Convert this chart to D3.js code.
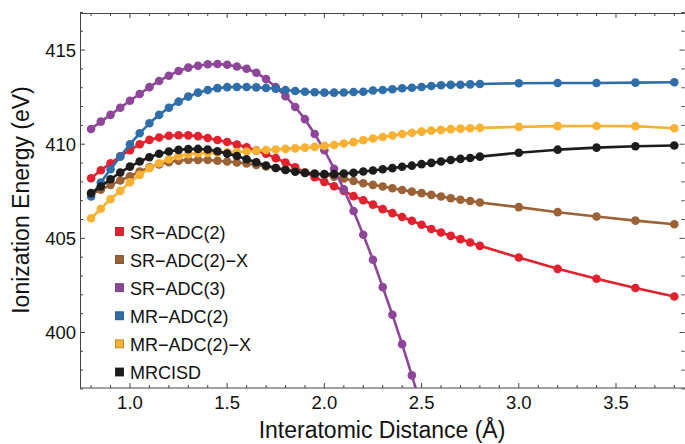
<!DOCTYPE html>
<html>
<head>
<meta charset="utf-8">
<script src="https://cdnjs.cloudflare.com/ajax/libs/d3/7.8.5/d3.min.js"></script>
<style>
    body { margin: 0; background: #fff; }
    text { font-family: "Liberation Sans", Arial, sans-serif; fill: #111; }
</style>
</head>
<body>
<div id="chart"></div>
<script>
// interatomic distances (Angstrom)
const distances = [0.80, 0.85, 0.90, 0.95, 1.00, 1.05, 1.10, 1.15, 1.20, 1.25, 1.30, 1.35, 1.40, 1.45, 1.50,
    1.55, 1.60, 1.65, 1.70, 1.75, 1.80, 1.85, 1.90, 1.95, 2.00, 2.05, 2.10, 2.15, 2.20, 2.25, 2.30, 2.35,
    2.40, 2.45, 2.50, 2.55, 2.60, 2.65, 2.70, 2.75, 2.80, 3.0, 3.2, 3.4, 3.6, 3.8];

const srAdc2 = [408.19, 408.62, 408.99, 409.36, 409.68, 410.00, 410.23, 410.36, 410.45, 410.48, 410.47, 410.43,
    410.33, 410.22, 410.12, 409.98, 409.84, 409.66, 409.49, 409.26, 409.03, 408.77, 408.50, 408.25, 408.00,
    407.77, 407.52, 407.24, 407.02, 406.79, 406.55, 406.34, 406.13, 405.93, 405.72, 405.50, 405.31, 405.13,
    404.96, 404.78, 404.60, 403.98, 403.38, 402.85, 402.36, 401.91];
const srAdc2X = [407.35, 407.58, 407.83, 408.07, 408.30, 408.55, 408.77, 408.92, 409.05, 409.13, 409.17, 409.17,
    409.16, 409.12, 409.08, 409.03, 408.98, 408.90, 408.82, 408.74, 408.65, 408.58, 408.51, 408.44, 408.37,
    408.28, 408.18, 408.05, 407.93, 407.84, 407.75, 407.66, 407.57, 407.48, 407.40, 407.31, 407.22, 407.13,
    407.05, 406.98, 406.90, 406.66, 406.39, 406.16, 405.94, 405.75];
const srAdc3 = [410.81, 411.20, 411.56, 411.94, 412.31, 412.67, 413.03, 413.36, 413.64, 413.89, 414.07, 414.17,
    414.25, 414.26, 414.22, 414.13, 414.01, 413.80, 413.46, 413.03, 412.55, 411.98, 411.33, 410.54, 409.68,
    408.70, 407.60, 406.45, 405.19, 403.86, 402.41, 400.94, 399.38, 397.72, 396.00];
const mrAdc2 = [407.22, 407.96, 408.67, 409.34, 410.00, 410.58, 411.11, 411.56, 411.94, 412.26, 412.53, 412.74,
    412.88, 412.98, 413.03, 413.04, 413.04, 413.02, 412.99, 412.95, 412.88, 412.83, 412.79, 412.76, 412.74,
    412.74, 412.75, 412.77, 412.79, 412.85, 412.88, 412.92, 412.97, 413.00, 413.04, 413.09, 413.13, 413.15,
    413.16, 413.18, 413.20, 413.24, 413.25, 413.25, 413.27, 413.29];
const mrAdc2X = [406.07, 406.57, 407.08, 407.52, 407.98, 408.37, 408.73, 408.99, 409.20, 409.36, 409.47, 409.52,
    409.54, 409.55, 409.57, 409.59, 409.61, 409.65, 409.69, 409.72, 409.75, 409.78, 409.82, 409.86, 409.91,
    409.96, 410.04, 410.11, 410.21, 410.30, 410.38, 410.46, 410.54, 410.61, 410.67, 410.72, 410.76, 410.80,
    410.83, 410.85, 410.87, 410.92, 410.96, 410.97, 410.96, 410.85];
const mrcisd = [407.40, 407.75, 408.14, 408.50, 408.81, 409.08, 409.31, 409.49, 409.61, 409.70, 409.74, 409.75,
    409.72, 409.63, 409.50, 409.37, 409.20, 409.04, 408.87, 408.74, 408.63, 408.54, 408.47, 408.43, 408.41,
    408.41, 408.44, 408.48, 408.55, 408.60, 408.67, 408.73, 408.80, 408.86, 408.94, 409.01, 409.08, 409.16,
    409.22, 409.27, 409.34, 409.55, 409.71, 409.82, 409.89, 409.93];

const seriesNames = ["SR\u2212ADC(2)", "SR\u2212ADC(2)\u2212X", "SR\u2212ADC(3)", "MR\u2212ADC(2)", "MR\u2212ADC(2)\u2212X", "MRCISD"];
const seriesValues = [srAdc2, srAdc2X, srAdc3, mrAdc2, mrAdc2X, mrcisd];
const seriesColors = ["#e2212f", "#9b6237", "#8e4699", "#2f6ea8", "#f8b133", "#1c1c1c"];

const xTicks = [1.0, 1.5, 2.0, 2.5, 3.0, 3.5];
const yTicks = [400, 405, 410, 415];

const width = 685, height = 444;
const margin = {top: 13, right: 0, bottom: 56, left: 80};
const plotW = width - margin.right - margin.left;
const plotH = height - margin.bottom - margin.top;

const svg = d3.select("#chart").append("svg").attr("width", width).attr("height", height);

const x = d3.scaleLinear().domain([0.743, 3.855]).range([margin.left, width - margin.right]);
const y = d3.scaleLinear().domain([397.05, 416.97]).range([height - margin.bottom, margin.top]);

svg.append("clipPath").attr("id", "plotClip").append("rect")
    .attr("x", margin.left).attr("y", margin.top)
    .attr("width", plotW).attr("height", plotH);

// frame ticks, inside, on all four sides
const frameColor = "#444";
const xMinor = d3.range(0.8, 3.86, 0.1).filter(v => Math.abs(v * 2 - Math.round(v * 2)) > 1e-6);
const yMinor = d3.range(397, 417.01, 1).filter(v => v % 5 !== 0);

const tickG = svg.append("g").attr("stroke", frameColor).attr("stroke-width", 1);
xTicks.concat(xMinor).forEach(v => {
    const len = xTicks.includes(v) ? 5 : 3;
    tickG.append("line").attr("x1", x(v)).attr("x2", x(v)).attr("y1", y.range()[0]).attr("y2", y.range()[0] - len);
    tickG.append("line").attr("x1", x(v)).attr("x2", x(v)).attr("y1", y.range()[1]).attr("y2", y.range()[1] + len);
});
yTicks.concat(yMinor).forEach(v => {
    const len = yTicks.includes(v) ? 5 : 3;
    tickG.append("line").attr("y1", y(v)).attr("y2", y(v)).attr("x1", x.range()[0]).attr("x2", x.range()[0] + len);
    tickG.append("line").attr("y1", y(v)).attr("y2", y(v)).attr("x1", x.range()[1] - 0.5).attr("x2", x.range()[1] - 0.5 - len);
});

svg.append("rect").attr("x", margin.left + 0.5).attr("y", margin.top + 0.5)
    .attr("width", plotW).attr("height", plotH - 0.5)
    .attr("fill", "none").attr("stroke", frameColor).attr("stroke-width", 1);

// tick labels
svg.append("g").selectAll("text").data(xTicks).join("text")
    .attr("x", d => x(d)).attr("y", 408.5).attr("text-anchor", "middle")
    .style("font-size", "18.5px").text(d => d.toFixed(1));
svg.append("g").selectAll("text").data(yTicks).join("text")
    .attr("x", 76).attr("y", d => y(d) + 6.7).attr("text-anchor", "end")
    .style("font-size", "18.5px").text(d => d);

// axis titles
svg.append("text").attr("x", 382).attr("y", 438).attr("text-anchor", "middle")
    .style("font-size", "23px").text("Interatomic Distance (\u00C5)");
svg.append("text").attr("transform", "translate(29,200) rotate(-90)").attr("text-anchor", "middle")
    .style("font-size", "23px").text("Ionization Energy (eV)");

// series: line then markers, later series on top
const plot = svg.append("g").attr("clip-path", "url(#plotClip)");
const line = d3.line().x(d => x(d[0])).y(d => y(d[1]));

for (let i = 0; i < seriesValues.length; i++) {
    const pts = seriesValues[i].map((v, j) => [distances[j], v]);
    const g = plot.append("g");
    g.append("path").datum(pts).attr("d", line)
        .attr("fill", "none").attr("stroke", seriesColors[i]).attr("stroke-width", 2.6)
        .attr("stroke-linejoin", "round");
    g.selectAll("circle").data(pts).join("circle")
        .attr("cx", d => x(d[0])).attr("cy", d => y(d[1])).attr("r", 4.3)
        .attr("fill", seriesColors[i]);
}

// legend
const legend = svg.append("g");
seriesNames.forEach((name, i) => {
    const ly = 232 + i * 28.1;
    legend.append("rect").attr("x", 115.5).attr("y", ly - 4.5).attr("width", 8).attr("height", 8)
        .attr("fill", seriesColors[i]).attr("stroke", d3.color(seriesColors[i]).darker(1)).attr("stroke-width", 0.8);
    legend.append("text").attr("x", 130).attr("y", ly + 6.5).style("font-size", "18px").text(name);
});
</script>
</body>
</html>
